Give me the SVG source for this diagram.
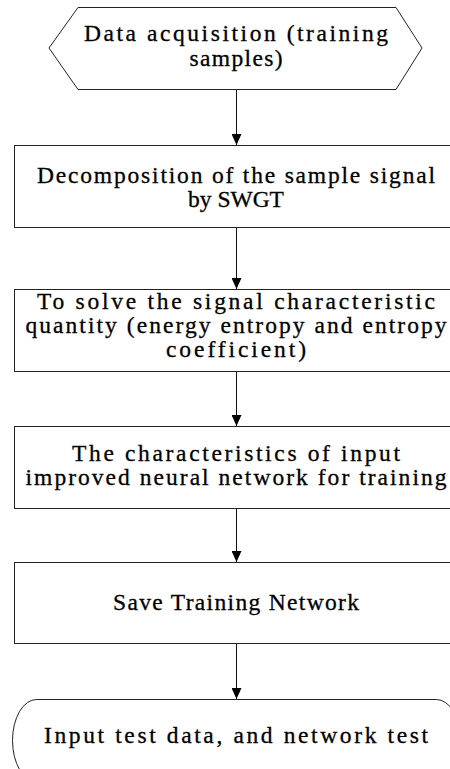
<svg xmlns="http://www.w3.org/2000/svg" width="450" height="769" viewBox="0 0 450 769">
<defs>
<marker id="ah" markerUnits="userSpaceOnUse" markerWidth="11" markerHeight="10" viewBox="0 0 11 10" refX="11" refY="5" orient="auto">
<path d="M0,0 L11,5 L0,10 Z" fill="#000"/>
</marker>
</defs>
<style>
.shape{fill:#fff;stroke:#222;stroke-width:1}
.t{font-family:"Liberation Serif","DejaVu Serif",serif;font-size:23.5px;fill:#000;stroke:#000;stroke-width:0.3;text-anchor:middle}
.c{fill:none;stroke:#111;stroke-width:1}
</style>
<rect width="450" height="769" fill="#fff"/>
<g id="connectors">
<line class="c" x1="236.5" y1="89" x2="236.5" y2="145" marker-end="url(#ah)"/>
<line class="c" x1="236.5" y1="227" x2="236.5" y2="289" marker-end="url(#ah)"/>
<line class="c" x1="236.5" y1="371" x2="236.5" y2="426" marker-end="url(#ah)"/>
<line class="c" x1="236.5" y1="508" x2="236.5" y2="562" marker-end="url(#ah)"/>
<line class="c" x1="236.5" y1="643" x2="236.5" y2="699" marker-end="url(#ah)"/>
</g>
<g id="n1">
<polygon class="shape" points="78,7.5 396,7.5 422,48 396,89.5 78,89.5 49,48"/>
<text class="t" x="236" y="41" textLength="304" lengthAdjust="spacing">Data acquisition (training</text>
<text class="t" x="236" y="66" textLength="93" lengthAdjust="spacing">samples)</text>
</g>
<g id="n2">
<rect class="shape" x="14.5" y="145.5" width="444" height="82"/>
<text class="t" x="236" y="183" textLength="398" lengthAdjust="spacing">Decomposition of the sample signal</text>
<text class="t" x="236" y="207">by SWGT</text>
</g>
<g id="n3">
<rect class="shape" x="14.5" y="289.5" width="444" height="82"/>
<text class="t" x="236" y="309" textLength="398" lengthAdjust="spacing">To solve the signal characteristic</text>
<text class="t" x="236" y="333" textLength="421" lengthAdjust="spacing">quantity (energy entropy and entropy</text>
<text class="t" x="236" y="357" textLength="140" lengthAdjust="spacing">coefficient)</text>
</g>
<g id="n4">
<rect class="shape" x="14.5" y="426.5" width="444" height="82"/>
<text class="t" x="236" y="461" textLength="328" lengthAdjust="spacing">The characteristics of input</text>
<text class="t" x="236" y="485" textLength="421" lengthAdjust="spacing">improved neural network for training</text>
</g>
<g id="n5">
<rect class="shape" x="14.5" y="562.5" width="444" height="81"/>
<text class="t" x="236" y="610" textLength="246" lengthAdjust="spacing">Save Training Network</text>
</g>
<g id="n6">
<rect class="shape" x="12.5" y="699.5" width="448" height="82" rx="24" ry="41"/>
<text class="t" x="236" y="743" textLength="384" lengthAdjust="spacing">Input test data, and network test</text>
</g>
</svg>
